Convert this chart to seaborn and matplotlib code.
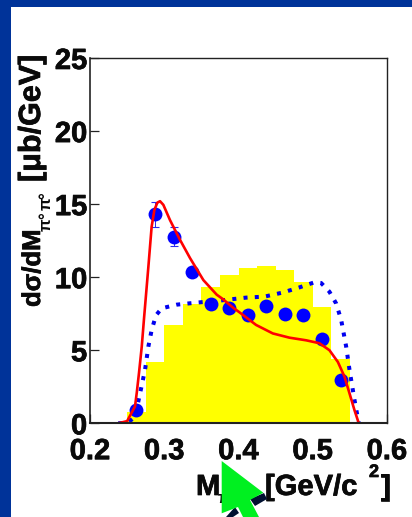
import matplotlib
matplotlib.use("Agg")
import matplotlib.pyplot as plt
import matplotlib.patheffects as pe
from matplotlib.patches import Polygon, Rectangle
from matplotlib.transforms import Affine2D
import seaborn as sns
import numpy as np

sns.set_style("white")
plt.rcParams['font.family'] = ['Liberation Sans', 'DejaVu Sans']
plt.rcParams['font.weight'] = 'bold'

# yellow histogram
hist_centers = [0.2625, 0.2875, 0.3125, 0.3375, 0.3625, 0.3875, 0.4125, 0.4375, 0.4625, 0.4875, 0.5125, 0.5375]
hist_values = [0.8, 4.2, 6.7, 8.15, 9.3, 10.15, 10.6, 10.75, 10.5, 9.65, 7.97, 4.4]

# data points
point_x = hist_centers
point_y = [0.9, 14.3, 12.75, 10.35, 8.15, 7.9, 7.4, 8.0, 7.45, 7.4, 5.75, 2.95]
point_err_low = [0.2, 0.9, 0.6, 0.3, 0.3, 0.3, 0.3, 0.3, 0.3, 0.3, 0.3, 0.3]
point_err_high = [0.2, 0.85, 0.65, 0.3, 0.3, 0.3, 0.3, 0.3, 0.3, 0.3, 0.3, 0.3]

# red curve
red_x = [.238, .25, .2606, .263, .266, .2697, .2728, .2786, .283, .2867, .2907, .2943, .2988, .3078,
         .3213, .3348, .3527, .3707, .379, .393, .4012, .4237, .4462, .4686, .4911, .509, .5225,
         .5338, .5427, .5495, .5562, .562]
red_y = [0, .15, 1.15, 2.1, 3.45, 5.25, 7.2, 10.7, 13.45, 14.6, 15.1, 15.2, 14.95, 13.9,
         12.55, 11.3, 9.8, 8.8, 8.5, 7.9, 7.6, 6.73, 6.15, 5.86, 5.68, 5.48, 5.0,
         4.2, 3.2, 2.05, .9, 0]

# blue dotted curve
blue_x = [.238, .2512, .2607, .2674, .2741, .2786, .2831, .289, .2966, .3168, .3438, .375, .41, .435,
          .4597, .482, .5023, .5113, .5225, .5315, .5383, .545, .5495, .5562, .562]
blue_y = [0, .05, .45, 2.05, 3.65, 5.25, 6.4, 7.4, 7.87, 8.12, 8.26, 8.4, 8.6, 8.67,
          8.95, 9.3, 9.65, 9.6, 9.0, 8.2, 7.07, 5.25, 3.65, 1.6, 0]

x_ticks = [0.2, 0.3, 0.4, 0.5, 0.6]
y_ticks = [0, 5, 10, 15, 20, 25]

W, H = 412, 517
fig = plt.figure(figsize=(W / 100, H / 100), dpi=100, facecolor="white")
pixels = Affine2D().scale(1, -1).translate(0, H)  # image pixel coordinates

# blue slide frame
FRAME = "#003399"
fig.patches.append(Rectangle((0, 0), 11, H, transform=pixels, color=FRAME, lw=0))
fig.patches.append(Rectangle((0, 0), W, 7, transform=pixels, color=FRAME, lw=0))

ax = fig.add_axes([90 / W, 1 - 423.3 / H, 297 / W, 365.3 / H])
ax.patch.set_alpha(0)

sns.histplot(x=hist_centers, weights=hist_values, binwidth=0.025, binrange=(0.25, 0.55),
             color="#ffff00", alpha=1, linewidth=0, ax=ax, zorder=1)
ax.errorbar(point_x, point_y, yerr=[point_err_low, point_err_high], fmt="none",
            ecolor="#2a2aee", elinewidth=0.7, capsize=3, capthick=0.8, zorder=2)
sns.scatterplot(x=point_x, y=point_y, s=100, color="#0000ff", linewidth=0, ax=ax, zorder=3)
sns.lineplot(x=blue_x, y=blue_y, sort=False, estimator=None, color="#0000f0", linewidth=2.9,
             linestyle=(0, (1, 1.8)), ax=ax, zorder=4)
sns.lineplot(x=red_x, y=red_y, sort=False, estimator=None, color="#ff0000", linewidth=1.9,
             ax=ax, zorder=5)

heavy = [pe.withStroke(linewidth=0.5, foreground="#0a0a0a")]

ax.set_xlim(0.2, 0.6)
ax.set_ylim(0, 25)
ax.set_xlabel("")
ax.set_ylabel("")
ax.set_xticks(x_ticks)
ax.set_yticks(y_ticks)
ax.tick_params(axis="both", which="major", direction="in", length=6.5, width=0.9, color="#222222",
               labelsize=21, labelcolor="#0a0a0a", left=True, bottom=True)
ax.tick_params(axis="x", pad=10)
ax.tick_params(axis="y", pad=2)
for lab in ax.get_xticklabels() + ax.get_yticklabels():
    lab.set_fontweight("bold")
    lab.set_path_effects(heavy)
ax.spines["left"].set_linewidth(1.2)
ax.spines["bottom"].set_linewidth(1.5)
ax.spines["top"].set_linewidth(1.0)
ax.spines["right"].set_linewidth(1.0)
for s in ax.spines.values():
    s.set_color("#222222")
    s.set_visible(True)
ax.spines["bottom"].set_zorder(6)

INK = "#0a0a0a"
def label(x, y, s, size=21, rot=0, stroke=True):
    t = fig.text(x, y, s, transform=pixels, fontsize=size, fontweight="bold", color=INK,
                 rotation=rot, rotation_mode="anchor", ha="left", va="baseline")
    if stroke:
        t.set_path_effects(heavy)

# rotated y label
label(40, 307, "d\u03c3/dM", size=18.5, rot=90)
label(51, 231, "\u03c0", size=12, rot=90, stroke=False)
label(51, 219, "\u00b0", size=12, rot=90, stroke=False)
label(51, 210, "\u03c0", size=12, rot=90, stroke=False)
label(51, 199, "\u00b0", size=12, rot=90, stroke=False)
label(40, 182, "[\u03bcb/GeV]", size=22, rot=90)

# x label
label(196, 495, "M")
label(218, 503, "\u03c0\u00b0\u03c0\u00b0", size=12, stroke=False)
label(265, 495, "[GeV/c")
label(369, 477, "2", size=13)
label(381, 495, "]")

# green cursor arrow
fig.patches.append(Polygon([(250, 499), (264, 493), (267, 499), (255, 506)], closed=True,
                           transform=pixels, color="#001030", lw=0, zorder=10))
fig.patches.append(Polygon([(226, 517), (235, 507), (239, 513), (233, 517)], closed=True,
                           transform=pixels, color="#001030", lw=0, zorder=10))
fig.patches.append(Polygon([(221.7, 461), (263.3, 492.7), (250, 500), (259, 517), (243, 517),
                            (238, 507), (221.7, 513.3)], closed=True,
                           transform=pixels, color="#00f020", lw=0, zorder=11))

fig.savefig("out.png", dpi=100)
